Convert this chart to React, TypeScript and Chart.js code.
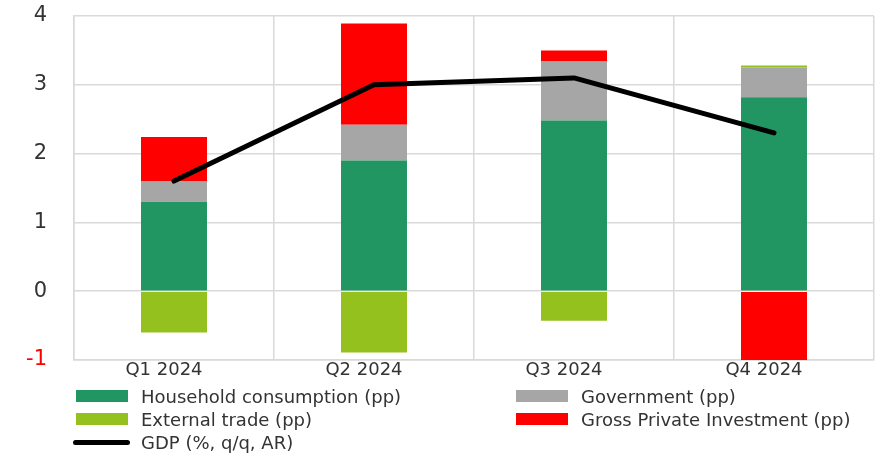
import React, { useEffect, useRef } from "react";
import { Chart, registerables } from "chart.js";

Chart.register(...registerables);

const categories = ["Q1 2024", "Q2 2024", "Q3 2024", "Q4 2024"];
const household = [1.3, 1.9, 2.48, 2.82];
const government = [0.3, 0.52, 0.86, 0.43];
const externalTrade = [-0.6, -0.89, -0.43, 0.03];
const investment = [0.64, 1.47, 0.16, -1.02];
const gdp = [1.6, 3.0, 3.1, 2.3];
const yTicks = [-1, 0, 1, 2, 3, 4];

const GREEN = "#219663";
const LIME = "#95C11F";
const GRAY = "#A6A6A6";
const RED = "#FF0000";
const FONT = "'DejaVu Sans', sans-serif";
const TEXT = "#333333";

export default function App() {
  const ref = useRef<HTMLCanvasElement | null>(null);

  useEffect(() => {
    if (!ref.current) return;
    const barCommon = { stack: "s", barPercentage: 0.33, categoryPercentage: 1, order: 2 };
    const chart = new Chart(ref.current, {
      type: "bar",
      data: {
        labels: categories,
        datasets: [
          { type: "line", label: "GDP (%, q/q, AR)", data: gdp, borderColor: "#000", backgroundColor: "#000", borderWidth: 5, pointRadius: 0, tension: 0, borderCapStyle: "round", borderJoinStyle: "round", order: 0 } as any,
          { label: "Household consumption (pp)", data: household, backgroundColor: GREEN, ...barCommon },
          { label: "Government (pp)", data: government, backgroundColor: GRAY, ...barCommon },
          { label: "External trade (pp)", data: externalTrade, backgroundColor: LIME, ...barCommon },
          { label: "Gross Private Investment (pp)", data: investment, backgroundColor: RED, ...barCommon },
        ],
      },
      options: {
        animation: false,
        responsive: false,
        maintainAspectRatio: false,
        layout: { padding: { top: 16, right: 5, left: 0, bottom: 0 } },
        plugins: { legend: { display: false }, tooltip: { enabled: false } },
        scales: {
          x: {
            stacked: true,
            grid: { color: "#D9D9D9", lineWidth: 1.5, offset: true, drawTicks: false },
            border: { color: "#D9D9D9", width: 1.5 },
            ticks: { color: TEXT, font: { family: FONT, size: 18 }, padding: 0, labelOffset: -10 },
            afterFit: (s: any) => { s.height = 95; s.paddingLeft = 0; s.paddingRight = 0; },
          },
          y: {
            stacked: true,
            min: -1,
            max: 4,
            afterBuildTicks: (s: any) => { s.ticks = yTicks.map((v) => ({ value: v })); },
            grid: { color: "#D9D9D9", lineWidth: 1.5, drawTicks: false },
            border: { color: "#D9D9D9", width: 1.5 },
            ticks: {
              color: (ctx: any) => (ctx.tick && ctx.tick.value < 0 ? "#FF0000" : TEXT),
              font: { family: FONT, size: 21 },
              padding: 27,
            },
            afterFit: (s: any) => { s.width = 74; s.paddingTop = 0; s.paddingBottom = 0; },
          },
        },
      },
    });
    return () => chart.destroy();
  }, []);

  const sw = (color: string) => (
    <span style={{ display: "inline-block", width: 52, height: 12, background: color, marginRight: 13 }} />
  );
  const item = (left: number, top: number, swatch: React.ReactNode, label: string) => (
    <div style={{ position: "absolute", left, top, display: "flex", alignItems: "center", height: 22, fontFamily: FONT, fontSize: 18, color: TEXT, whiteSpace: "nowrap" }}>
      {swatch}
      <span>{label}</span>
    </div>
  );

  return (
    <div style={{ position: "fixed", left: 0, top: 0, width: 879, height: 455, background: "#fff" }}>
      <canvas ref={ref} width={879} height={455} style={{ display: "block" }} />
      {item(76, 385, sw(GREEN), "Household consumption (pp)")}
      {item(516, 385, sw(GRAY), "Government (pp)")}
      {item(76, 408, sw(LIME), "External trade (pp)")}
      {item(516, 408, sw(RED), "Gross Private Investment (pp)")}
      {item(73, 431, <span style={{ display: "inline-block", width: 57, height: 5, borderRadius: 3, background: "#000", marginRight: 11 }} />, "GDP (%, q/q, AR)")}
    </div>
  );
}
